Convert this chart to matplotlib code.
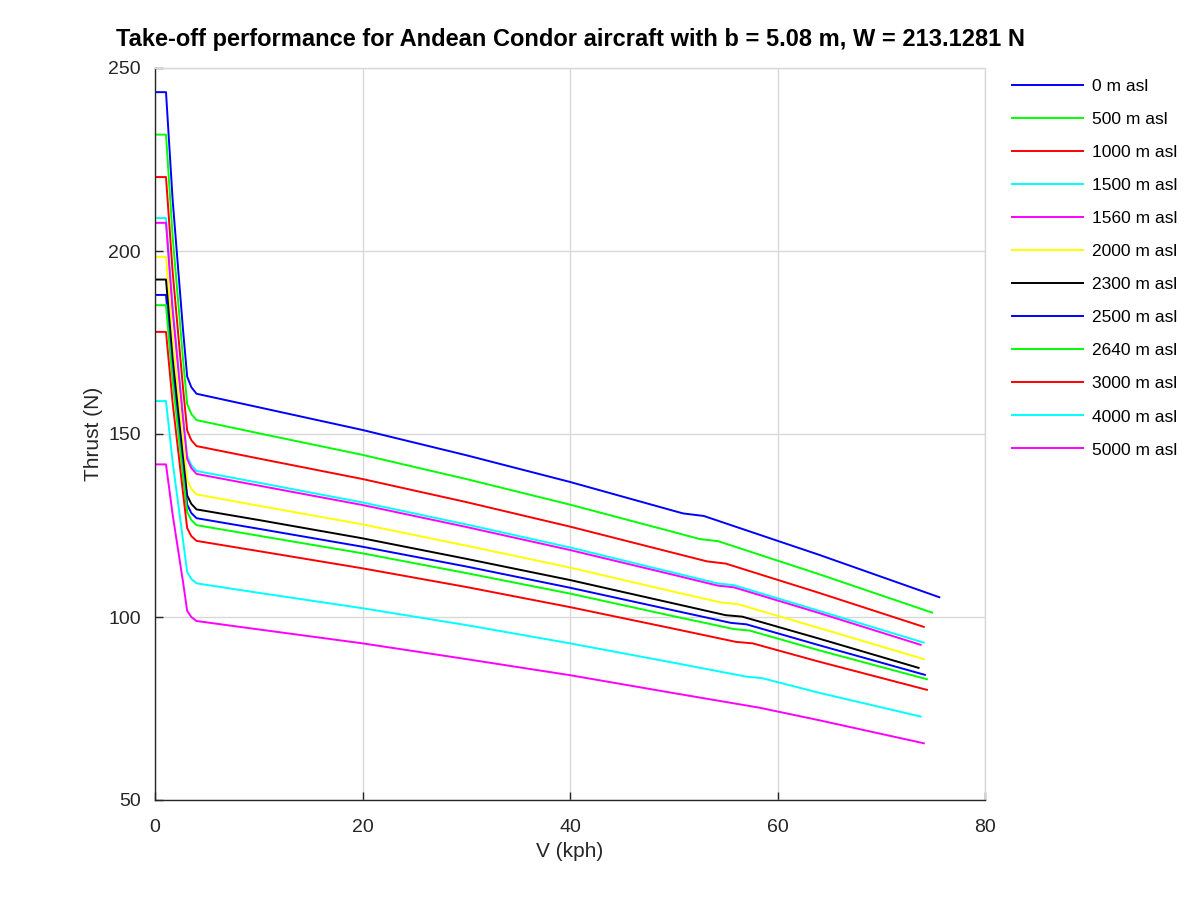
import matplotlib
matplotlib.use("Agg")
import matplotlib.pyplot as plt

plt.rcParams['font.family'] = ['Liberation Sans', 'DejaVu Sans']

labels = ["0 m asl", "500 m asl", "1000 m asl", "1500 m asl", "1560 m asl", "2000 m asl",
          "2300 m asl", "2500 m asl", "2640 m asl", "3000 m asl", "4000 m asl", "5000 m asl"]
colors = ["#0000ff", "#00ff00", "#ff0000", "#00ffff", "#ff00ff", "#ffff00",
          "#000000", "#0000ff", "#00ff00", "#ff0000", "#00ffff", "#ff00ff"]

v_0 = [0, 1.06, 1.7, 2.7, 3.1, 3.5, 4, 10, 20, 30, 40, 50, 50.9, 52.9, 64, 75.6]
t_0 = [243.4, 243.4, 214.0, 178.5, 165.7, 162.8, 161.0, 157.3, 151.1, 144.2, 136.9, 129.0, 128.3, 127.6, 117.0, 105.4]

v_500 = [0, 1.06, 1.7, 2.7, 3.1, 3.5, 4, 10, 20, 30, 40, 50, 52.5, 54.3, 64, 74.9]
t_500 = [231.8, 231.8, 204.0, 170.5, 158.2, 155.5, 153.8, 150.2, 144.3, 137.7, 130.7, 123.2, 121.3, 120.7, 111.7, 101.2]

v_1000 = [0, 1.06, 1.7, 2.7, 3.1, 3.5, 4, 10, 20, 30, 40, 50, 53.2, 55.0, 64, 74.1]
t_1000 = [220.2, 220.2, 194.3, 162.6, 151.0, 148.3, 146.7, 143.3, 137.7, 131.4, 124.7, 117.5, 115.2, 114.6, 106.6, 97.3]

v_1500 = [0, 1.06, 1.7, 2.7, 3.1, 3.5, 4, 10, 20, 30, 40, 50, 54.2, 55.8, 64, 74.1]
t_1500 = [209.0, 209.0, 184.9, 155.1, 144.0, 141.5, 139.9, 136.7, 131.3, 125.3, 119.0, 112.1, 109.2, 108.7, 101.7, 93.0]

v_1560 = [0, 1.06, 1.7, 2.7, 3.1, 3.5, 4, 10, 20, 30, 40, 50, 54.2, 55.8, 64, 73.8]
t_1560 = [207.7, 207.7, 183.7, 154.2, 143.2, 140.7, 139.1, 135.9, 130.6, 124.6, 118.3, 111.5, 108.6, 108.1, 101.1, 92.4]

v_2000 = [0, 1.06, 1.7, 2.7, 3.1, 3.5, 4, 10, 20, 30, 40, 50, 54.5, 56.2, 64, 74.1]
t_2000 = [198.4, 198.4, 175.9, 148.0, 137.4, 135.0, 133.5, 130.4, 125.3, 119.5, 113.5, 106.9, 104.0, 103.5, 97.0, 88.5]

v_2300 = [0, 1.06, 1.7, 2.7, 3.1, 3.5, 4, 10, 20, 30, 40, 50, 55.0, 56.6, 64, 73.6]
t_2300 = [192.2, 192.2, 170.6, 143.5, 133.2, 130.9, 129.4, 126.5, 121.5, 115.9, 110.1, 103.7, 100.5, 100.1, 94.1, 86.1]

v_2500 = [0, 1.06, 1.7, 2.7, 3.1, 3.5, 4, 10, 20, 30, 40, 50, 55.5, 57.0, 64, 74.2]
t_2500 = [188.0, 188.0, 167.0, 140.8, 130.7, 128.4, 127.0, 124.1, 119.2, 113.8, 108.0, 101.8, 98.4, 98.0, 92.3, 84.2]

v_2640 = [0, 1.06, 1.7, 2.7, 3.1, 3.5, 4, 10, 20, 30, 40, 50, 55.8, 57.3, 64, 74.4]
t_2640 = [185.2, 185.2, 164.6, 138.7, 128.7, 126.5, 125.1, 122.2, 117.4, 112.0, 106.4, 100.2, 96.7, 96.3, 90.9, 83.0]

v_3000 = [0, 1.06, 1.7, 2.7, 3.1, 3.5, 4, 10, 20, 30, 40, 50, 56.0, 57.6, 64, 74.4]
t_3000 = [177.9, 177.9, 158.5, 133.9, 124.3, 122.1, 120.8, 118.0, 113.3, 108.2, 102.7, 96.8, 93.2, 92.8, 87.8, 80.1]

v_4000 = [0, 1.06, 1.7, 2.7, 3.1, 3.5, 4, 10, 20, 30, 40, 50, 57.0, 58.5, 64, 73.8]
t_4000 = [159.0, 159.0, 142.4, 121.0, 112.3, 110.4, 109.2, 106.6, 102.4, 97.8, 92.8, 87.5, 83.7, 83.3, 79.3, 72.8]

v_5000 = [0, 1.06, 1.7, 2.7, 3.1, 3.5, 4, 10, 20, 30, 40, 50, 58.3, 59.8, 64, 74.1]
t_5000 = [141.7, 141.7, 128.0, 109.6, 101.7, 100.0, 98.9, 96.6, 92.8, 88.5, 84.1, 79.2, 75.2, 74.3, 71.8, 65.5]

series_v = [v_0, v_500, v_1000, v_1500, v_1560, v_2000, v_2300, v_2500, v_2640, v_3000, v_4000, v_5000]
series_t = [t_0, t_500, t_1000, t_1500, t_1560, t_2000, t_2300, t_2500, t_2640, t_3000, t_4000, t_5000]

x_ticks = [0, 20, 40, 60, 80]
y_ticks = [50, 100, 150, 200, 250]

fig = plt.figure(figsize=(12, 9), dpi=100)
ax = fig.add_axes([155/1200, 100/900, 830/1200, 732/900])

for vv, tt, c, lab in zip(series_v, series_t, colors, labels):
    ax.plot(vv, tt, color=c, lw=1.4, label=lab)

ax.set_xlim(0, 80)
ax.set_ylim(50, 250)
ax.set_xticks(x_ticks)
ax.set_yticks(y_ticks)
ax.grid(True, color='#d9d9d9', lw=1.0)
ax.set_axisbelow(True)
for s in ['left', 'bottom']:
    ax.spines[s].set_color('#262626')
    ax.spines[s].set_linewidth(1.0)
for s in ['top', 'right']:
    ax.spines[s].set_color('#d9d9d9')
    ax.spines[s].set_linewidth(1.0)
ax.tick_params(direction='in', length=6, width=1.0, color='#262626', labelsize=14,
               labelcolor='#262626')
ax.tick_params(axis='x', pad=14)
ax.tick_params(axis='y', pad=10)

ax.set_xlabel("V (kph)", fontsize=15, color='#262626', labelpad=4)
ax.set_ylabel("Thrust (N)", fontsize=15, color='#262626', labelpad=4)
ax.set_title("Take-off performance for Andean Condor aircraft with b = 5.08 m, W = 213.1281 N",
             fontsize=17, fontweight='bold', pad=16)

fig.legend(loc='upper left', bbox_to_anchor=(1012/1200, 1 - 79/900), frameon=False,
           fontsize=12.5, handlelength=4.1, handletextpad=0.5, labelspacing=1.03,
           borderaxespad=0, borderpad=0)

fig.savefig("out.png", dpi=100)
